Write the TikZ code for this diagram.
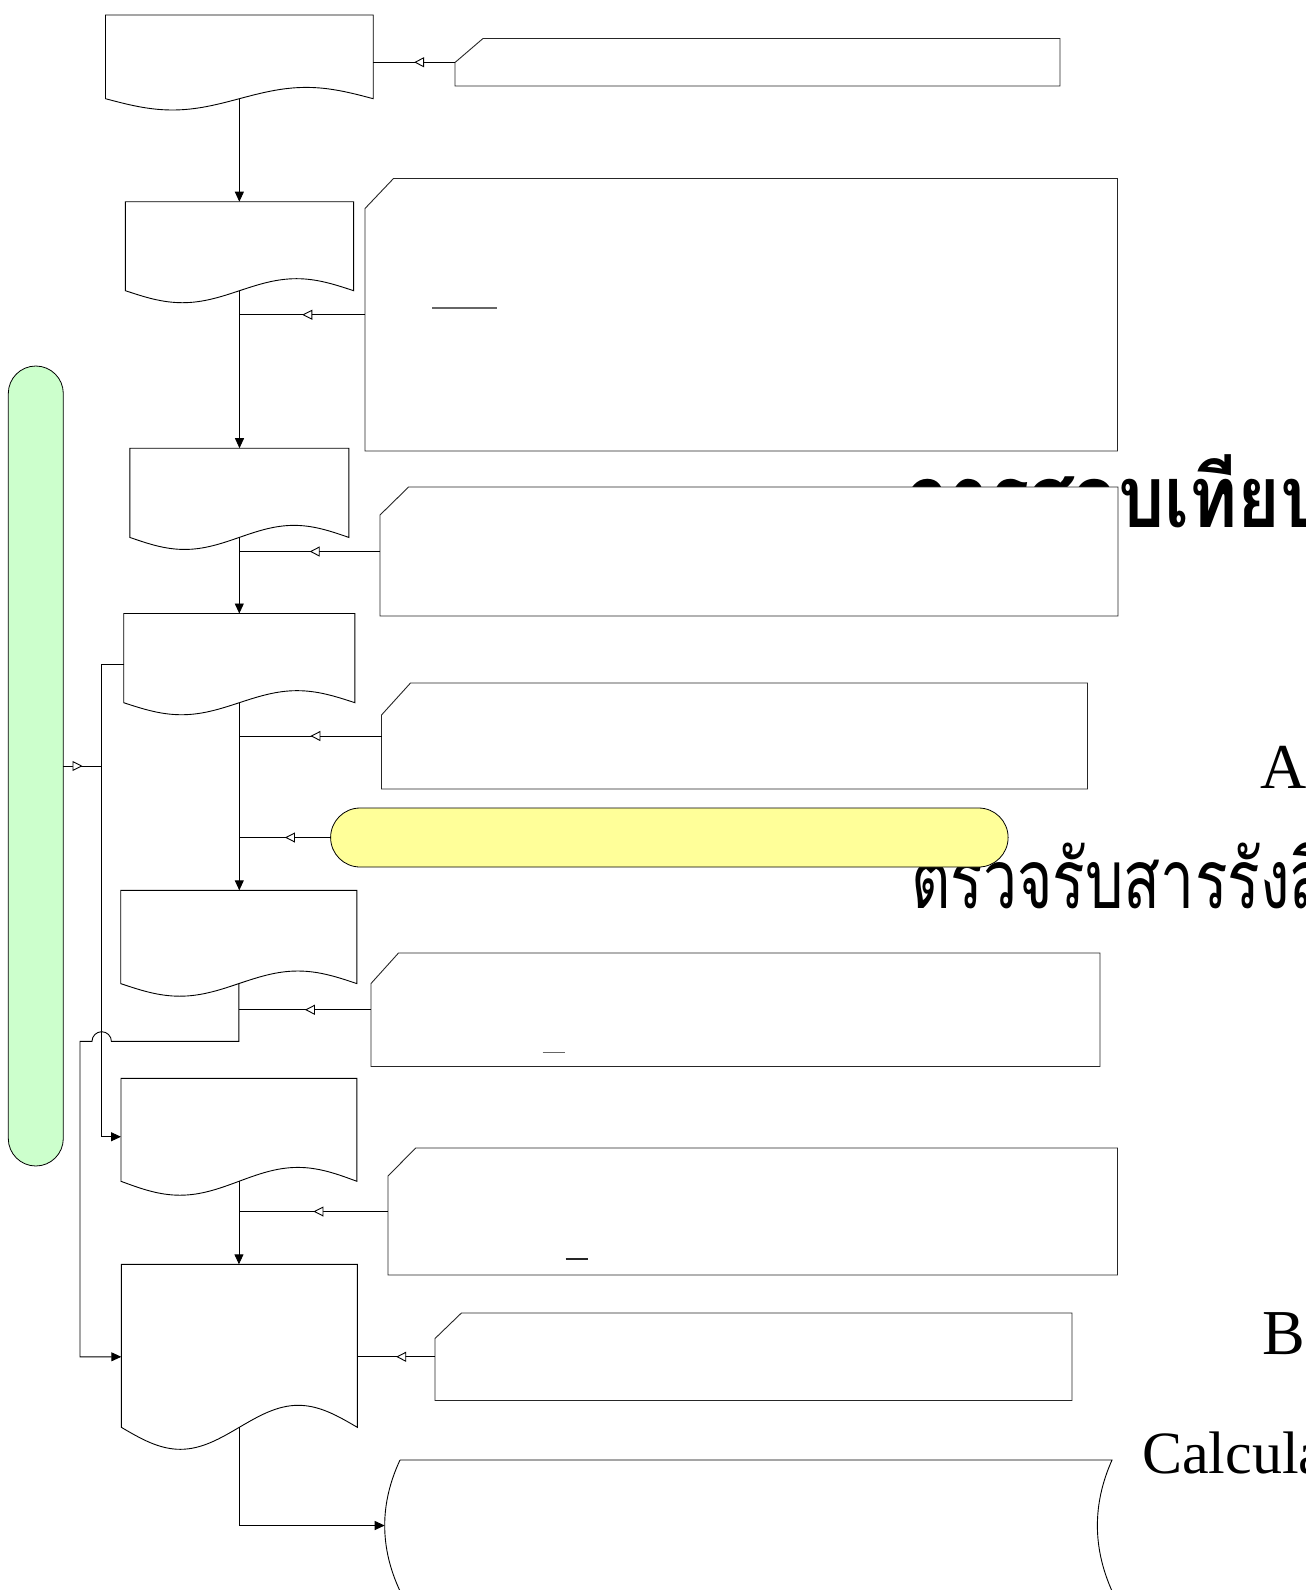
\documentclass[tikz,border=0pt]{standalone}
\usepackage{fontspec}
\setmainfont{Liberation Serif}
\newfontfamily\thaifont[Script=Thai, FakeStretch=0.85]{Loma}
\newfontfamily\thaitall[Script=Thai, FakeStretch=0.74]{Loma}
\usetikzlibrary{arrows.meta,decorations.markings}

\definecolor{lanegreen}{HTML}{CCFFCC}
\definecolor{noteyellow}{HTML}{FFFF99}

\tikzset{
  blk/.style={rectangle, draw=none, inner sep=0pt, outer sep=0pt},
  docline/.style={draw=black, fill=white, line width=0.9pt},
  cardline/.style={draw=black!85, fill=white, line width=0.9pt},
  pillbox/.style={rectangle, draw=black, line width=0.8pt, inner sep=0pt, outer sep=0pt},
  flow/.style={draw=black, line width=0.9pt, -{Triangle[length=10pt,width=9pt]}},
  feed/.style={draw=black, line width=0.9pt, postaction={decorate},
    decoration={markings, mark=at position 0.5 with {\arrow{Triangle[length=10pt,width=10pt,fill=white]}}}},
  uline/.style={draw=black!60, line width=1.5pt},
  bigthai/.style={inner sep=0pt, anchor=base west, font=\thaifont\bfseries\fontsize{86}{90}\selectfont},
  midthai/.style={inner sep=0pt, anchor=base west, font=\thaitall\fontsize{82}{90}\selectfont},
  bigletter/.style={inner sep=0pt, anchor=base west, font=\fontsize{64}{70}\selectfont}
}

% document symbol: name, left, top, right, side bottom
\newcommand\docnode[5]{%
  \pgfmathsetmacro\docw{#4-#2}%
  \pgfmathsetmacro\doch{#5-#3}%
  \pgfmathsetmacro\doca{0.135*\doch}%
  \pgfmathsetmacro\doct{\doch+\doca}%
  \pgfmathsetmacro\docq{\docw/4}%
  \node[blk, anchor=north west, minimum width=\docw pt, minimum height=\doct pt] (#1) at (#2,#3) {};
  \coordinate (#1-b) at ({(#2+#4)/2},#5);
  \path[docline] (#2,#5) -- (#2,#3) -- (#4,#3) -- (#4,#5)
    sin ++(-\docq,-\doca) cos ++(-\docq,\doca) sin ++(-\docq,\doca) cos ++(-\docq,-\doca) -- cycle;
}

% card symbol with a cut corner: name, left, top, right, bottom, cut width, cut height
\newcommand\cardnode[7]{%
  \pgfmathsetmacro\cardw{#4-#2}%
  \pgfmathsetmacro\cardh{#5-#3}%
  \node[blk, anchor=north west, minimum width=\cardw pt, minimum height=\cardh pt] (#1) at (#2,#3) {};
  \path[cardline] (#2,#5) -- (#2,{#3+#7}) -- ({#2+#6},#3) -- (#4,#3) -- (#4,#5) -- cycle;
}

\begin{document}
\begin{tikzpicture}[x=1pt,y=-1pt]
\useasboundingbox (0,0) rectangle (1306,1590);

% headings on the right
\node[bigthai] (hdr) at (905,527) {การสอบเทียบเ};
\node[midthai] (recv) at (911,908) {ตรวจรับสารรังสี};
\node[bigletter] (la) at (1260,788) {A};
\node[bigletter] (lb) at (1262,1354) {B};
\node[bigletter, font=\fontsize{60}{66}\selectfont] (calc) at (1142,1473) {Calcula};

% side lane
\node[pillbox, fill=lanegreen, rounded corners=27.5pt, minimum width=55pt, minimum height=800pt, anchor=north west] (g) at (8.3,366) {};

% documents
\docnode{d1}{105.5}{15}{373.2}{98.7}
\docnode{d2}{125.4}{201.7}{353.6}{290.7}
\docnode{d3}{129.8}{448.2}{348.8}{537.4}
\docnode{d4}{123.7}{613.5}{354.9}{702.7}
\docnode{d5}{120.7}{890.3}{356.9}{983.6}
\docnode{d6}{121}{1078.3}{356.9}{1181.3}
\docnode{d7}{121.3}{1264.3}{357.3}{1427.3}

% cards
\cardnode{c1}{455}{38.5}{1060}{86}{28}{24}
\cardnode{c2}{365}{178.5}{1117.5}{451}{28.5}{30}
\cardnode{c3}{380}{487}{1118}{616}{28.6}{28}
\cardnode{c4}{381.5}{683}{1087.5}{789}{29}{32}
\cardnode{c5}{371}{953}{1100}{1066.5}{27.5}{30.5}
\cardnode{c6}{388}{1148}{1117.5}{1275}{27.7}{28}
\cardnode{c7}{435}{1313}{1072}{1400.5}{26.4}{25.5}

% terminator
\node[pillbox, fill=noteyellow, rounded corners=29.5pt, minimum width=677.5pt, minimum height=59pt, anchor=north west] (y) at (330.6,808) {};

% stored data
\node[blk, anchor=north west, minimum width=727pt, minimum height=131pt] (st) at (384.7,1460) {};
\path[docline] (400,1460) -- (1112,1460)
  .. controls (1092.5,1503.7) and (1092.5,1547.3) .. (1112,1591) -- (400,1591)
  .. controls (379.6,1547.3) and (379.6,1503.7) .. (400,1460);

% underlines
\draw[uline] (432,308) -- (496.7,308);
\draw[uline] (542.7,1052.7) -- (565.3,1052.7);
\draw[uline, draw=black!85] (565.7,1259) -- (587.7,1259);

% main flow
\draw[flow] (d1-b) -- (d1-b |- d2.north);
\draw[flow] (d2-b) -- (d2-b |- d3.north);
\draw[flow] (d3-b) -- (d3-b |- d4.north);
\draw[flow] (d4-b) -- (d4-b |- d5.north);
\draw[flow] (d6-b) -- (d6-b |- d7.north);
\draw[flow] (d7-b) |- (st.west);

% inputs from the cards
\draw[feed] (c1.west) -- (c1.west -| d1.east);
\draw[feed] (c2.west) -- (c2.west -| d2-b);
\draw[feed] (c3.west) -- (c3.west -| d3-b);
\draw[feed] (c4.west) -- (c4.west -| d4-b);
\draw[feed] (y.west) -- (y.west -| d4-b);
\draw[feed] (c5.west) -- (c5.west -| d5-b);
\draw[feed] (c6.west) -- (c6.west -| d6-b);
\draw[feed] (c7.west) -- (c7.west -| d7.east);

% branch on the left
\coordinate (spine) at (101.7,766);
\draw[flow] (d4.west) -| (spine) |- (d6.west);
\draw[feed] (g.east) -- (spine);

\coordinate (hopr) at (111.4,1041.4);
\coordinate (bendl) at (80,1041.4);
\draw[flow] (d5-b) |- (hopr) arc[start angle=0, end angle=180, radius=9.7pt] -- (bendl) |- (d7.west);
\end{tikzpicture}
\end{document}
